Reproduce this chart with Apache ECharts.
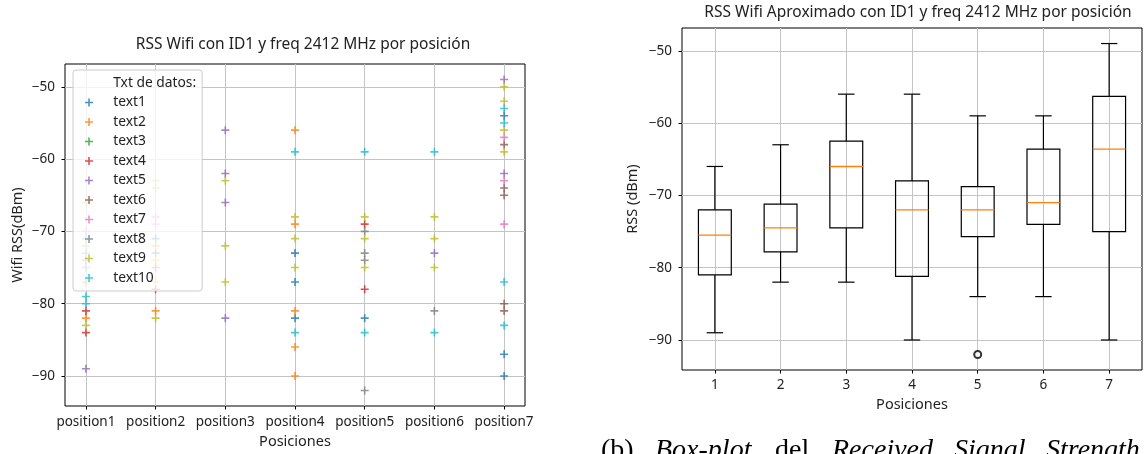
<!DOCTYPE html>
<html><head><meta charset="utf-8">
<script src="https://cdn.jsdelivr.net/npm/echarts@6/dist/echarts.min.js"></script>
<style>html,body{margin:0;padding:0;background:#fff}#c{width:1144px;height:454px}</style>
</head><body><div id="c"></div>
<script>
// ---------- data ----------
const positions = ['position1','position2','position3','position4','position5','position6','position7'];
const boxPositions = [1,2,3,4,5,6,7];
const yTicks = [-90,-80,-70,-60,-50];
const seriesNames = ['text1','text2','text3','text4','text5','text6','text7','text8','text9','text10'];
const legendTitle = 'Txt de datos:';

// [position number, RSS dBm]
const text1 = [[2,-71],[2,-73],[4,-73],[4,-77],[4,-82],[5,-82],[7,-54],[7,-87],[7,-90]];
const text2 = [[1,-77],[1,-82],[2,-72],[2,-81],[4,-56],[4,-69],[4,-81],[4,-86],[4,-90]];
const text3 = [];
const text4 = [[1,-81],[1,-84],[2,-75],[2,-78],[5,-69],[5,-78]];
const text5 = [[1,-74],[1,-75],[1,-89],[3,-56],[3,-62],[3,-66],[3,-82],[6,-73],[7,-49],[7,-62]];
const text6 = [[7,-58],[7,-64],[7,-65],[7,-80],[7,-81]];
const text7 = [[1,-70],[2,-68],[2,-69],[7,-57],[7,-63],[7,-69]];
const text8 = [[5,-70],[5,-73],[5,-74],[5,-92],[6,-81]];
const text9 = [[1,-66],[1,-72],[1,-83],[2,-63],[2,-64],[2,-74],[2,-77],[2,-82],[3,-63],[3,-72],[3,-77],
               [4,-68],[4,-71],[4,-75],[5,-68],[5,-71],[5,-75],[6,-68],[6,-71],[6,-75],[7,-50],[7,-52],[7,-56],[7,-59]];
const text10 = [[1,-71],[1,-73],[1,-79],[1,-80],[4,-59],[4,-84],[5,-59],[5,-84],[6,-59],[6,-84],[7,-53],[7,-55],[7,-77],[7,-83]];
const seriesData = [text1,text2,text3,text4,text5,text6,text7,text8,text9,text10];

// box stats: [position, whiskerLow, Q1, median, Q3, whiskerHigh]
const boxStats = [
  [1,-89,-81,-75.5,-72,-66],
  [2,-82,-77.8,-74.5,-71.2,-63],
  [3,-82,-74.5,-66,-62.5,-56],
  [4,-90,-81.2,-72,-68,-56],
  [5,-84,-75.7,-72,-68.8,-59],
  [6,-84,-74,-71,-63.6,-59],
  [7,-90,-75,-63.6,-56.3,-49]
];
const outliers = [[5,-92]];

// ---------- style ----------
const colors = ['#1f77b4','#ff7f0e','#2ca02c','#d62728','#9467bd','#8c564b','#e377c2','#7f7f7f','#bcbd22','#17becf'];
const FONT = '"Noto Sans", "Open Sans", sans-serif';
const TXT = '#222';
const cross = 'path://M4,0h2v4h4v2h-4v4h-2v-4h-4v-2h4z';
const minus = v => (v < 0 ? '\u2212' + Math.abs(v) : String(v));

function yAxis(gi, name, nameGap) {
  return {
    type: 'value', gridIndex: gi, min: -94.15, max: -46.85,
    name: name, nameLocation: 'middle', nameGap: nameGap,
    nameTextStyle: {fontFamily: FONT, fontSize: 14.5, color: TXT},
    axisLine: {show: false},
    axisTick: {show: true, length: 3.5, customValues: yTicks, lineStyle: {color: '#000', width: 1}},
    axisLabel: {customValues: yTicks, formatter: minus, margin: 10, fontFamily: FONT, fontSize: 13.5, color: TXT},
    splitLine: {show: true, lineStyle: {color: '#c4c4c4', width: 1}}
  };
}
function xAxis(gi, min, max, fmt, name, nameGap, margin) {
  return {
    type: 'value', gridIndex: gi, min: min, max: max,
    name: name, nameLocation: 'middle', nameGap: nameGap,
    nameTextStyle: {fontFamily: FONT, fontSize: 14.5, color: TXT},
    axisLine: {show: false},
    axisTick: {show: true, length: 3.5, customValues: boxPositions, lineStyle: {color: '#000', width: 1}},
    axisLabel: {customValues: boxPositions, formatter: fmt, margin: margin, fontFamily: FONT, fontSize: 13.5, color: TXT},
    splitLine: {show: true, lineStyle: {color: '#c4c4c4', width: 1}}
  };
}

const scatterSeries = seriesNames.map((n, i) => ({
  type: 'scatter', name: n, xAxisIndex: 0, yAxisIndex: 0,
  data: seriesData[i], symbol: cross, symbolSize: 8,
  itemStyle: {color: colors[i]}, emphasis: {disabled: true}
}));

const chart = echarts.init(document.getElementById('c'), null, {renderer: 'canvas'});
chart.setOption({
  animation: false,
  backgroundColor: '#fff',
  grid: [
    {left: 65, top: 64, width: 460, height: 342, show: true, borderColor: '#000', borderWidth: 1, backgroundColor: 'transparent', outerBoundsMode: 'none'},
    {left: 682, top: 28, width: 460, height: 342, show: true, borderColor: '#000', borderWidth: 1, backgroundColor: 'transparent', outerBoundsMode: 'none'}
  ],
  xAxis: [
    xAxis(0, 0.7, 7.3, v => positions[v - 1], 'Posiciones', 28, 9),
    xAxis(1, 0.5, 7.5, v => String(v), 'Posiciones', 27, 8)
  ],
  yAxis: [
    yAxis(0, 'Wifi RSS(dBm)', 40),
    yAxis(1, 'RSS (dBm)', 42)
  ],
  legend: {
    data: [legendTitle].concat(seriesNames),
    orient: 'vertical', left: 73, top: 70,
    padding: [6, 6, 6, 12], itemWidth: 20, itemHeight: 8, itemGap: 5.5,
    icon: cross, selectedMode: false,
    backgroundColor: 'rgba(255,255,255,0.8)', borderColor: '#cccccc', borderWidth: 1, borderRadius: 3,
    formatter: n => '\u2002\u2009' + n,
    textStyle: {fontFamily: FONT, fontSize: 13.8, color: TXT}
  },
  graphic: [
    {type: 'text', x: 303, y: 45, style: {text: 'RSS Wifi con ID1 y freq 2412 MHz por posición', font: '15.5px ' + FONT, fill: TXT, align: 'center', verticalAlign: 'middle'}},
    {type: 'text', x: 918, y: 13, style: {text: 'RSS Wifi Aproximado con ID1 y freq 2412 MHz por posición', font: '15.5px ' + FONT, fill: TXT, align: 'center', verticalAlign: 'middle'}},
    {type: 'text', x: 601, y: 437, style: {text: '(b)', font: '28px "Liberation Serif", serif', fill: '#000'}},
    {type: 'text', x: 655, y: 437, style: {text: 'Box-plot', font: 'italic 28px "Liberation Serif", serif', fill: '#000'}},
    {type: 'text', x: 775, y: 437, style: {text: 'del', font: '28px "Liberation Serif", serif', fill: '#000'}},
    {type: 'text', x: 832, y: 437, style: {text: 'Received', font: 'italic 28px "Liberation Serif", serif', fill: '#000'}},
    {type: 'text', x: 954, y: 437, style: {text: 'Signal', font: 'italic 28px "Liberation Serif", serif', fill: '#000'}},
    {type: 'text', x: 1046, y: 437, style: {text: 'Strength', font: 'italic 28px "Liberation Serif", serif', fill: '#000'}}
  ],
  series: [
    {type: 'scatter', name: legendTitle, xAxisIndex: 0, yAxisIndex: 0, data: [], itemStyle: {color: 'rgba(0,0,0,0)'}}
  ].concat(scatterSeries).concat([
    {
      type: 'custom', name: 'box', xAxisIndex: 1, yAxisIndex: 1,
      data: boxStats,
      encode: {x: 0, y: [1, 2, 3, 4, 5]},
      renderItem: function (params, api) {
        const x = api.value(0);
        const lo = api.coord([x, api.value(1)]);
        const q1 = api.coord([x, api.value(2)]);
        const md = api.coord([x, api.value(3)]);
        const q3 = api.coord([x, api.value(4)]);
        const hi = api.coord([x, api.value(5)]);
        const bw = api.size([0.5, 0])[0];
        const cw = api.size([0.25, 0])[0];
        const cx = lo[0];
        const ls = {stroke: '#000', lineWidth: 1.2, fill: null};
        return {type: 'group', children: [
          {type: 'line', shape: {x1: cx, y1: hi[1], x2: cx, y2: q3[1]}, style: ls},
          {type: 'line', shape: {x1: cx, y1: q1[1], x2: cx, y2: lo[1]}, style: ls},
          {type: 'line', shape: {x1: cx - cw / 2, y1: hi[1], x2: cx + cw / 2, y2: hi[1]}, style: ls},
          {type: 'line', shape: {x1: cx - cw / 2, y1: lo[1], x2: cx + cw / 2, y2: lo[1]}, style: ls},
          {type: 'rect', shape: {x: cx - bw / 2, y: q3[1], width: bw, height: q1[1] - q3[1]}, style: {stroke: '#000', lineWidth: 1.2, fill: 'none'}},
          {type: 'line', shape: {x1: cx - bw / 2, y1: md[1], x2: cx + bw / 2, y2: md[1]}, style: {stroke: '#ff7f0e', lineWidth: 1.4}}
        ]};
      }
    },
    {
      type: 'scatter', name: 'outliers', xAxisIndex: 1, yAxisIndex: 1,
      data: outliers, symbol: 'emptyCircle', symbolSize: 7,
      itemStyle: {color: '#000', borderColor: '#000', borderWidth: 1.4},
      emphasis: {disabled: true}
    }
  ])
});
</script>
</body></html>
